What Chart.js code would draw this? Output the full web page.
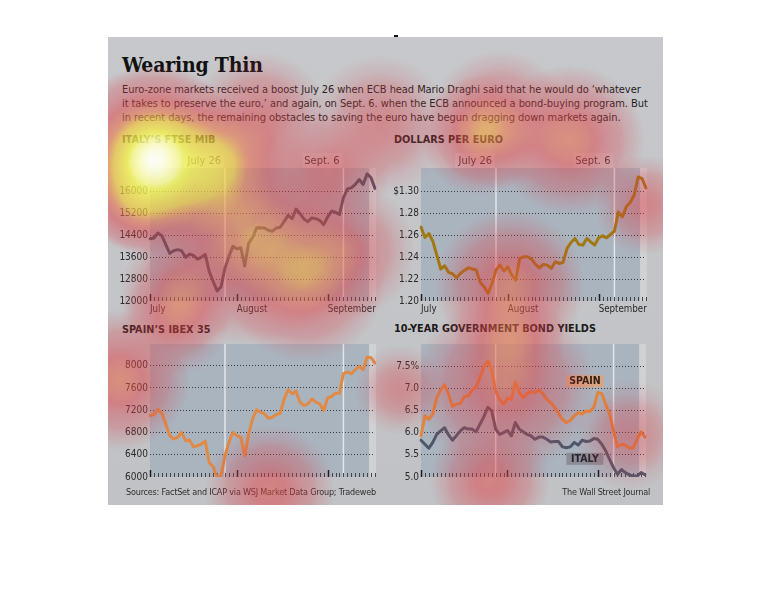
<!DOCTYPE html>
<html>
<head>
<meta charset="utf-8">
<title>Wearing Thin</title>
<script src="https://cdn.jsdelivr.net/npm/chart.js@4.4.1/dist/chart.umd.min.js"></script>
<style>
  body { margin: 0; width: 770px; height: 600px; background: #fff; position: relative; overflow: hidden; }
  .abs { position: absolute; white-space: nowrap; }
  #graphic { position: absolute; left: 108px; top: 37px; width: 555px; height: 468px;
             background: linear-gradient(#c7c8cb, #c1c2c5); }
  #mark { position: absolute; left: 394px; top: 35px; width: 4px; height: 2px; background: #111; }
  h1 { position: absolute; left: 122px; top: 51px; margin: 0; font: bold 21px/28px "DejaVu Serif Condensed", "DejaVu Serif", serif; color: #111; letter-spacing: -0.2px; }
  .dek { left: 122px; top: 83px; font: 11px/14px "DejaVu Sans Condensed", "DejaVu Sans", sans-serif; color: #1e1e1e; letter-spacing: -0.07px; }
  .ptitle { font: bold 10.8px/14px "DejaVu Sans Condensed", "DejaVu Sans", sans-serif; color: #1a1a1a; }
  .note { font: 9px/12px "DejaVu Sans Condensed", "DejaVu Sans", sans-serif; color: #2e2e2e; letter-spacing: -0.2px; }
  canvas.chart { position: absolute; }
  #heat { position: absolute; left: 0; top: 0; pointer-events: none; }
</style>
</head>
<body>
<div id="graphic"></div>
<div id="mark"></div>
<h1>Wearing Thin</h1>
<div class="abs dek">Euro-zone markets received a boost July 26 when ECB head Mario Draghi said that he would do ‘whatever<br>it takes to preserve the euro,’ and again, on Sept. 6. when the ECB announced a bond-buying program. But<br>in recent days, the remaining obstacles to saving the euro have begun dragging down markets again.</div>

<div class="abs ptitle" style="left:122px; top:133px;">ITALY’S FTSE MIB</div>
<div class="abs ptitle" style="left:394px; top:133px;">DOLLARS PER EURO</div>
<div class="abs ptitle" style="left:122px; top:323px;">SPAIN’S IBEX 35</div>
<div class="abs ptitle" style="left:394px; top:322px;">10-YEAR GOVERNMENT BOND YIELDS</div>

<canvas class="chart" id="ftse" width="280" height="170" style="left:108px; top:150px;"></canvas>
<canvas class="chart" id="euro" width="275" height="170" style="left:385px; top:150px;"></canvas>
<canvas class="chart" id="ibex" width="280" height="170" style="left:108px; top:326px;"></canvas>
<canvas class="chart" id="bonds" width="275" height="170" style="left:385px; top:326px;"></canvas>

<div class="abs note" style="left:126px; top:486px;">Sources: FactSet and ICAP via WSJ Market Data Group; Tradeweb</div>
<div class="abs note" style="right:120px; top:486px;">The Wall Street Journal</div>

<canvas id="heat" width="770" height="600"></canvas>

<script>
// trading days shown on every panel
var days = ['Jun 29',
  'Jul 2', 'Jul 3', 'Jul 4', 'Jul 5', 'Jul 6', 'Jul 9', 'Jul 10', 'Jul 11', 'Jul 12', 'Jul 13',
  'Jul 16', 'Jul 17', 'Jul 18', 'Jul 19', 'Jul 20', 'Jul 23', 'Jul 24', 'Jul 25', 'Jul 26', 'Jul 27',
  'Jul 30', 'Jul 31',
  'Aug 1', 'Aug 2', 'Aug 3', 'Aug 6', 'Aug 7', 'Aug 8', 'Aug 9', 'Aug 10', 'Aug 13', 'Aug 14',
  'Aug 15', 'Aug 16', 'Aug 17', 'Aug 20', 'Aug 21', 'Aug 22', 'Aug 23', 'Aug 24', 'Aug 27', 'Aug 28',
  'Aug 29', 'Aug 30', 'Aug 31',
  'Sep 3', 'Sep 4', 'Sep 5', 'Sep 6', 'Sep 7', 'Sep 10', 'Sep 11', 'Sep 12', 'Sep 13', 'Sep 14',
  'Sep 17', 'Sep 18'];

// month marks sit on the last session of the previous month
var monthMarks = ['Jun 29', 'Jul 31', 'Aug 31'];
var monthNames = ['July', 'August', 'September'];

var eventDays = ['Jul 26', 'Sep 6'];
var eventNames = ['July 26', 'Sept. 6'];
var recentFrom = 'Sep 17';

var ftseMib = [14270, 14295, 14477, 14380, 14050, 13735, 13830, 13870, 13830, 13590,
  13710, 13660, 13530, 13590, 13690, 13080, 12710, 12370, 12520, 13200,
  13625, 13990, 13900, 13940, 13280, 14110, 14320, 14660, 14670, 14660,
  14575, 14540, 14660, 14685, 14900, 15120, 15000, 15350, 15180, 14990,
  14890, 15025, 15000, 14940, 14780, 15060, 15270, 15230, 15150, 15760,
  16085, 16120, 16245, 16425, 16245, 16630, 16490, 16100];

var dollarsPerEuro = [1.2673, 1.2579, 1.2615, 1.2545, 1.2418, 1.2291, 1.2321, 1.2261, 1.2248, 1.2212,
  1.2252, 1.2279, 1.2303, 1.2291, 1.2282, 1.2170, 1.2130, 1.2070, 1.2161, 1.2282,
  1.2327, 1.2273, 1.2312, 1.2236, 1.2191, 1.2388, 1.2403, 1.2403, 1.2382, 1.2333,
  1.2303, 1.2333, 1.2327, 1.2297, 1.2358, 1.2342, 1.2352, 1.2479, 1.2533, 1.2570,
  1.2515, 1.2509, 1.2570, 1.2539, 1.2509, 1.2576, 1.2594, 1.2576, 1.2606, 1.2636,
  1.2812, 1.2767, 1.2858, 1.2897, 1.2964, 1.3130, 1.3115, 1.3030];

var ibex35 = [7104, 7122, 7218, 7146, 6953, 6743, 6683, 6713, 6803, 6653,
  6665, 6544, 6562, 6592, 6641, 6262, 6183, 5991, 6021, 6382,
  6623, 6803, 6743, 6713, 6382, 6773, 7044, 7206, 7164, 7134,
  7056, 7074, 7122, 7146, 7405, 7567, 7495, 7543, 7344, 7284,
  7314, 7405, 7344, 7314, 7194, 7423, 7447, 7507, 7507, 7856,
  7886, 7856, 7928, 7988, 7928, 8156, 8144, 8048];

var spainYield = [5.93, 6.38, 6.30, 6.42, 6.79, 6.96, 7.08, 6.87, 6.59, 6.64,
  6.66, 6.81, 6.83, 6.96, 7.03, 7.24, 7.48, 7.62, 7.43, 6.94,
  6.75, 6.64, 6.78, 6.75, 7.15, 6.91, 6.79, 6.88, 6.93, 6.90,
  6.96, 6.88, 6.75, 6.68, 6.57, 6.43, 6.30, 6.23, 6.28, 6.38,
  6.45, 6.42, 6.49, 6.48, 6.58, 6.91, 6.88, 6.64, 6.42, 6.04,
  5.68, 5.74, 5.72, 5.65, 5.66, 5.85, 6.02, 5.90];

var italyYield = [5.83, 5.74, 5.65, 5.78, 5.96, 6.04, 6.11, 5.95, 5.83, 5.93,
  6.04, 6.11, 6.08, 6.08, 6.02, 6.19, 6.36, 6.57, 6.49, 6.08,
  5.96, 6.00, 6.05, 5.93, 6.23, 6.08, 6.02, 5.96, 5.93, 5.85,
  5.90, 5.90, 5.85, 5.79, 5.80, 5.80, 5.68, 5.66, 5.68, 5.78,
  5.72, 5.83, 5.80, 5.81, 5.87, 5.85, 5.74, 5.59, 5.40, 5.21,
  5.06, 5.17, 5.10, 5.05, 5.02, 5.02, 5.10, 5.05];

var ftseTicks = [12000, 12800, 13600, 14400, 15200, 16000];
var euroTicks = [1.20, 1.22, 1.24, 1.26, 1.28, 1.30];
var ibexTicks = [6000, 6400, 6800, 7200, 7600, 8000];
var yieldTicks = [5.0, 5.5, 6.0, 6.5, 7.0, 7.5];

var NARROW = '"DejaVu Sans Condensed", "DejaVu Sans", sans-serif';

// background, event lines, day ticks and labels
var decor = {
  id: 'decor',
  beforeDraw: function (chart, args, o) {
    var ctx = chart.ctx, a = chart.chartArea, x = chart.scales.x;
    ctx.save();
    ctx.fillStyle = '#aab4bf';
    ctx.fillRect(a.left, a.top, a.right - a.left, a.bottom - a.top);
    var step = x.getPixelForValue(1) - x.getPixelForValue(0);
    var rx = x.getPixelForValue(days.indexOf(recentFrom)) - step / 2;
    ctx.fillStyle = '#d0d1d3';
    ctx.fillRect(rx, a.top, a.right - rx + 1, a.bottom - a.top);
    ctx.restore();
  },
  beforeDatasetsDraw: function (chart, args, o) {
    var ctx = chart.ctx, a = chart.chartArea, x = chart.scales.x;
    ctx.save();
    // event lines
    ctx.strokeStyle = 'rgba(238,238,238,0.85)';
    ctx.lineWidth = 1.5;
    eventDays.forEach(function (d) {
      var px = x.getPixelForValue(days.indexOf(d));
      ctx.beginPath();
      ctx.moveTo(px, a.top);
      ctx.lineTo(px, a.bottom);
      ctx.stroke();
    });
    // one tick per session, taller at month marks
    days.forEach(function (d, i) {
      var px = Math.round(x.getPixelForValue(i)) + 0.5;
      var major = monthMarks.indexOf(d) >= 0;
      ctx.strokeStyle = major ? '#1c1c1c' : '#454545';
      ctx.lineWidth = major ? 1.5 : 1;
      ctx.beginPath();
      ctx.moveTo(px, a.bottom);
      ctx.lineTo(px, a.bottom - (major ? 7 : 4));
      ctx.stroke();
    });
    ctx.restore();
  },
  afterDatasetsDraw: function (chart, args, o) {
    if (!o.tags) return;
    var ctx = chart.ctx, x = chart.scales.x, y = chart.scales.y;
    ctx.save();
    ctx.font = 'bold 10.5px ' + NARROW;
    ctx.textAlign = 'center';
    ctx.textBaseline = 'middle';
    o.tags.forEach(function (t) {
      var left = x.getPixelForValue(days.indexOf(t.day));
      var cy = y.getPixelForValue(t.value);
      ctx.fillStyle = t.fill;
      ctx.fillRect(left, cy - 6, 37, 12);
      ctx.fillStyle = t.color;
      ctx.fillText(t.text, left + 18.5, cy + 0.5);
    });
    ctx.restore();
  },
  afterDraw: function (chart, args, o) {
    if (!o.eventLabels) return;
    var ctx = chart.ctx, a = chart.chartArea, x = chart.scales.x;
    ctx.save();
    ctx.font = '11px ' + NARROW;
    ctx.textAlign = 'right';
    ctx.textBaseline = 'middle';
    eventDays.forEach(function (d, i) {
      var px = x.getPixelForValue(days.indexOf(d));
      ctx.fillStyle = 'rgba(255,255,255,0.16)';
      ctx.fillRect(px - 41, a.top - 15, 40, 15);
      ctx.fillStyle = '#333';
      ctx.fillText(eventNames[i], px - 4, a.top - 7);
    });
    ctx.restore();
  }
};

function makeChart(id, datasets, yTicks, yMin, yMax, fmt, opts) {
  return new Chart(document.getElementById(id), {
    type: 'line',
    data: { labels: days, datasets: datasets },
    options: {
      responsive: false,
      animation: false,
      events: [],
      layout: { padding: { left: 0, right: opts.padRight, top: 18, bottom: 3 } },
      elements: {
        point: { radius: 0 },
        line: { borderWidth: 3, tension: 0, borderJoinStyle: 'round', borderCapStyle: 'round' }
      },
      plugins: {
        legend: { display: false },
        tooltip: { enabled: false },
        decor: { eventLabels: opts.eventLabels, tags: opts.tags }
      },
      scales: {
        x: {
          type: 'category',
          grid: { display: false, drawTicks: false },
          border: { display: false },
          ticks: {
            autoSkip: false, maxRotation: 0, align: 'start', padding: 3,
            color: '#2a2a2a', font: { family: NARROW, size: 9.7 },
            callback: function (v, i) {
              if (!opts.months) return '';
              var m = monthMarks.indexOf(days[i]);
              return m >= 0 ? monthNames[m] : '';
            }
          },
          afterFit: function (s) { s.height = 16; }
        },
        y: {
          min: yMin, max: yMax,
          grid: {
            drawTicks: false, lineWidth: 1,
            color: function (c) { return c.tick && c.tick.value === yTicks[0] ? 'rgba(0,0,0,0)' : '#3a3a3a'; }
          },
          border: { display: false, dash: [1, 2] },
          ticks: { padding: 2, color: '#2a2a2a', font: { family: NARROW, size: 10 }, callback: fmt },
          afterBuildTicks: function (s) { s.ticks = yTicks.map(function (v) { return { value: v }; }); },
          afterFit: function (s) { s.width = opts.yWidth; }
        }
      }
    },
    plugins: [decor]
  });
}

makeChart('ftse',
  [{ data: ftseMib, borderColor: '#4a5366' }],
  ftseTicks, 12000, 16844, function (v) { return String(v); },
  { padRight: 13, yWidth: 42, months: true, eventLabels: true });

makeChart('euro',
  [{ data: dollarsPerEuro, borderColor: '#a27812' }],
  euroTicks, 1.20, 1.3212, function (v) { return v === 1.30 ? '$1.30' : v.toFixed(2); },
  { padRight: 14, yWidth: 36, months: true, eventLabels: true });

makeChart('ibex',
  [{ data: ibex35, borderColor: '#e08a46' }],
  ibexTicks, 6000, 8390, function (v) { return String(v); },
  { padRight: 13, yWidth: 42, months: false, eventLabels: false });

makeChart('bonds',
  [{ data: spainYield, borderColor: '#e3873c' }, { data: italyYield, borderColor: '#4e576a' }],
  yieldTicks, 5.0, 8.0, function (v) { return v === 7.5 ? '7.5%' : v.toFixed(1); },
  { padRight: 15, yWidth: 36, months: false, eventLabels: false,
    tags: [{ text: 'SPAIN', day: 'Aug 21', value: 7.16, fill: '#d8a482', color: '#2a1c12' },
           { text: 'ITALY', day: 'Aug 21', value: 5.41, fill: '#8c8b96', color: '#24242c' }] });

// eye-tracking heat overlay that covers the original graphic
var heatSpots = [
  [155, 160, 95, 1.0], [155, 158, 30, 0.6], [215, 165, 70, 0.5], [140, 200, 55, 0.35],
  [260, 122, 70, 0.3], [380, 125, 70, 0.25], [500, 120, 70, 0.3],
  [250, 235, 110, 0.5], [305, 282, 80, 0.4], [180, 292, 60, 0.3], [330, 172, 60, 0.3], [345, 250, 70, 0.3],
  [480, 135, 60, 0.4], [570, 140, 75, 0.42], [645, 205, 50, 0.28], [510, 285, 75, 0.42],
  [120, 380, 70, 0.42], [175, 320, 55, 0.28], [270, 490, 65, 0.35],
  [505, 385, 90, 0.38], [510, 340, 55, 0.28], [490, 480, 60, 0.35], [630, 435, 55, 0.22], [400, 390, 45, 0.22]
];

var heatStops = [
  [0.00, 215, 60, 70, 0],
  [0.10, 215, 60, 70, 0.28],
  [0.30, 222, 62, 68, 0.50],
  [0.45, 235, 115, 70, 0.58],
  [0.58, 240, 200, 60, 0.70],
  [0.80, 245, 245, 80, 0.80],
  [0.93, 255, 255, 200, 0.90],
  [1.00, 255, 255, 255, 0.95]
];

function heatColor(t) {
  for (var k = 1; k < heatStops.length; k++) {
    if (t <= heatStops[k][0]) {
      var p = heatStops[k - 1], q = heatStops[k];
      var f = (t - p[0]) / (q[0] - p[0]);
      return [p[1] + (q[1] - p[1]) * f, p[2] + (q[2] - p[2]) * f, p[3] + (q[3] - p[3]) * f, p[4] + (q[4] - p[4]) * f];
    }
  }
  return heatStops[heatStops.length - 1].slice(1);
}

function drawHeat() {
  var c = document.getElementById('heat');
  var g = c.getContext('2d');
  g.save();
  g.beginPath();
  g.rect(108, 37, 555, 468);
  g.clip();
  heatSpots.forEach(function (h) {
    var grd = g.createRadialGradient(h[0], h[1], 0, h[0], h[1], h[2]);
    grd.addColorStop(0, 'rgba(0,0,0,' + h[3] + ')');
    grd.addColorStop(0.25, 'rgba(0,0,0,' + h[3] * 0.83 + ')');
    grd.addColorStop(0.5, 'rgba(0,0,0,' + h[3] * 0.47 + ')');
    grd.addColorStop(0.75, 'rgba(0,0,0,' + h[3] * 0.18 + ')');
    grd.addColorStop(1, 'rgba(0,0,0,0)');
    g.fillStyle = grd;
    g.fillRect(h[0] - h[2], h[1] - h[2], h[2] * 2, h[2] * 2);
  });
  g.restore();
  var img = g.getImageData(0, 0, c.width, c.height);
  var px = img.data;
  for (var i = 0; i < px.length; i += 4) {
    if (!px[i + 3]) continue;
    var col = heatColor(px[i + 3] / 255);
    px[i] = col[0]; px[i + 1] = col[1]; px[i + 2] = col[2]; px[i + 3] = col[3] * 255;
  }
  g.putImageData(img, 0, 0);
}

drawHeat();
</script>
</body>
</html>
